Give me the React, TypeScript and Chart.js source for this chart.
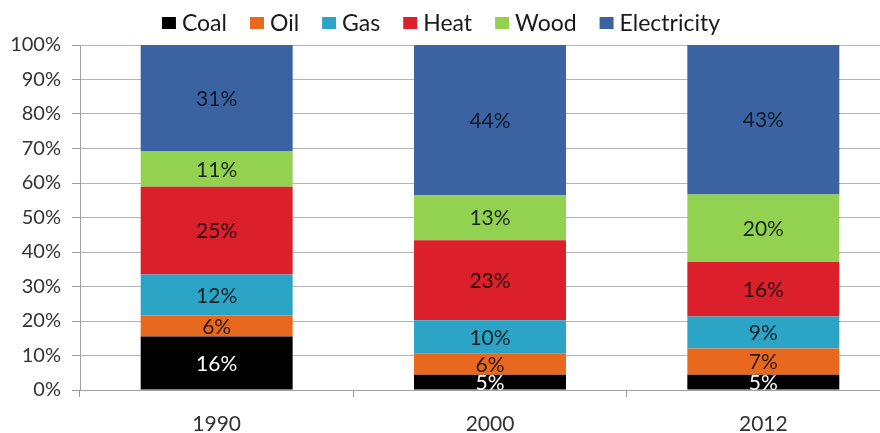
import React, { useEffect, useRef } from 'react';
import { Chart, registerables } from 'chart.js';
Chart.register(...registerables);

const years = ['1990', '2000', '2012'];
const seriesNames = ['Coal', 'Oil', 'Gas', 'Heat', 'Wood', 'Electricity'];
const coal = [15.5, 4.4, 4.4];
const oil = [6.1, 6.1, 7.6];
const gas = [11.9, 9.7, 9.3];
const heat = [25.4, 23.2, 15.8];
const wood = [10.4, 13.1, 19.6];
const electricity = [30.7, 43.5, 43.3];
const coalLabels = ['16%', '5%', '5%'];
const oilLabels = ['6%', '6%', '7%'];
const gasLabels = ['12%', '10%', '9%'];
const heatLabels = ['25%', '23%', '16%'];
const woodLabels = ['11%', '13%', '20%'];
const electricityLabels = ['31%', '44%', '43%'];
const yTickLabels = ['0%', '10%', '20%', '30%', '40%', '50%', '60%', '70%', '80%', '90%', '100%'];

const colors = ['#000000', '#E8691E', '#2CA4C6', '#DB1F2B', '#93D151', '#3B63A2'];
const labelColors = ['#ffffff', '#2a1a12', '#10232b', '#2a0a0c', '#1a2a10', '#121a2a'];
const FONT = 'Lato, "Open Sans", sans-serif';

const allValues = [coal, oil, gas, heat, wood, electricity];
const allLabels = [coalLabels, oilLabels, gasLabels, heatLabels, woodLabels, electricityLabels];

const segmentLabelPlugin = {
  id: 'segmentLabels',
  afterDatasetsDraw(chart: any) {
    const ctx = chart.ctx;
    const area = chart.chartArea;
    ctx.save();
    ctx.beginPath();
    ctx.rect(area.left, area.top, area.right - area.left, area.bottom - area.top);
    ctx.clip();
    ctx.font = `21px ${FONT}`;
    ctx.textAlign = 'center';
    ctx.textBaseline = 'middle';
    chart.data.datasets.forEach((ds: any, di: number) => {
      const meta = chart.getDatasetMeta(di);
      meta.data.forEach((bar: any, i: number) => {
        const cy = (bar.y + bar.base) / 2;
        ctx.fillStyle = labelColors[di];
        ctx.fillText(allLabels[di][i], bar.x, cy + 1);
      });
    });
    ctx.restore();
  },
};

const customLegendPlugin = {
  id: 'customLegend',
  afterDraw(chart: any) {
    const ctx = chart.ctx;
    ctx.save();
    ctx.font = `23px ${FONT}`;
    ctx.textBaseline = 'middle';
    ctx.textAlign = 'left';
    const boxW = 14;
    const boxH = 12;
    const gap = 6;
    const spacing = 23;
    const widths = seriesNames.map((n) => ctx.measureText(n).width);
    const total = widths.reduce((a, b) => a + b, 0) + seriesNames.length * (boxW + gap) + (seriesNames.length - 1) * spacing;
    let x = 441 - total / 2;
    const cy = 23;
    seriesNames.forEach((n, i) => {
      ctx.fillStyle = colors[i];
      ctx.fillRect(x, cy - boxH / 2, boxW, boxH);
      x += boxW + gap;
      ctx.fillStyle = '#1a1a1a';
      ctx.fillText(n, x, cy + 1);
      x += widths[i] + spacing;
    });
    ctx.restore();
  },
};

export default function App() {
  const ref = useRef<HTMLCanvasElement>(null);
  useEffect(() => {
    document.body.style.margin = '0';
    let chart: Chart | null = null;
    let cancelled = false;
    const make = () => {
      if (cancelled || !ref.current) return;
      chart = new Chart(ref.current, {
        type: 'bar',
        data: {
          labels: years,
          datasets: seriesNames.map((name, i) => ({
            label: name,
            data: allValues[i],
            backgroundColor: colors[i],
            borderWidth: 0,
            barPercentage: 0.556,
            categoryPercentage: 1,
          })),
        },
        options: {
          responsive: false,
          animation: false,
          layout: { padding: { top: 45, left: 0, right: 0, bottom: 0 } },
          plugins: { legend: { display: false }, tooltip: { enabled: false } },
          scales: {
            x: {
              stacked: true,
              offset: true,
              grid: {
                display: true,
                drawOnChartArea: false,
                offset: true,
                tickLength: 7,
                color: '#9a9a9a',
              },
              border: { display: true, color: '#a0a0a0', width: 1 },
              ticks: {
                color: '#333333',
                font: { family: FONT, size: 21 },
                padding: 15,
                maxRotation: 0,
              },
              afterFit(scale: any) {
                scale.height = 43;
              },
            },
            y: {
              stacked: true,
              min: 0,
              max: 100,
              ticks: {
                stepSize: 10,
                color: '#333333',
                font: { family: FONT, size: 20 },
                padding: 11,
                callback: (v: any) => yTickLabels[Math.round(Number(v) / 10)],
              },
              grid: {
                color: '#b5b5b5',
                borderDash: [2, 2],
                tickBorderDash: [],
                tickColor: '#9a9a9a',
                tickLength: 8,
                lineWidth: 1,
              },
              border: { display: true, color: '#a0a0a0', width: 1 },
              afterFit(scale: any) {
                scale.width = 80;
              },
            },
          },
        },
        plugins: [segmentLabelPlugin, customLegendPlugin],
      } as any);
    };
    const fonts: any = (document as any).fonts;
    if (fonts && fonts.load) {
      Promise.all([fonts.load(`23px Lato`), fonts.load(`20px Lato`)]).then(make, make);
    } else {
      make();
    }
    return () => {
      cancelled = true;
      if (chart) chart.destroy();
    };
  }, []);
  return (
    <div style={{ width: 880, height: 433, overflow: 'hidden', position: 'relative' }}>
      <canvas ref={ref} width={900} height={433} style={{ display: 'block' }} />
    </div>
  );
}
